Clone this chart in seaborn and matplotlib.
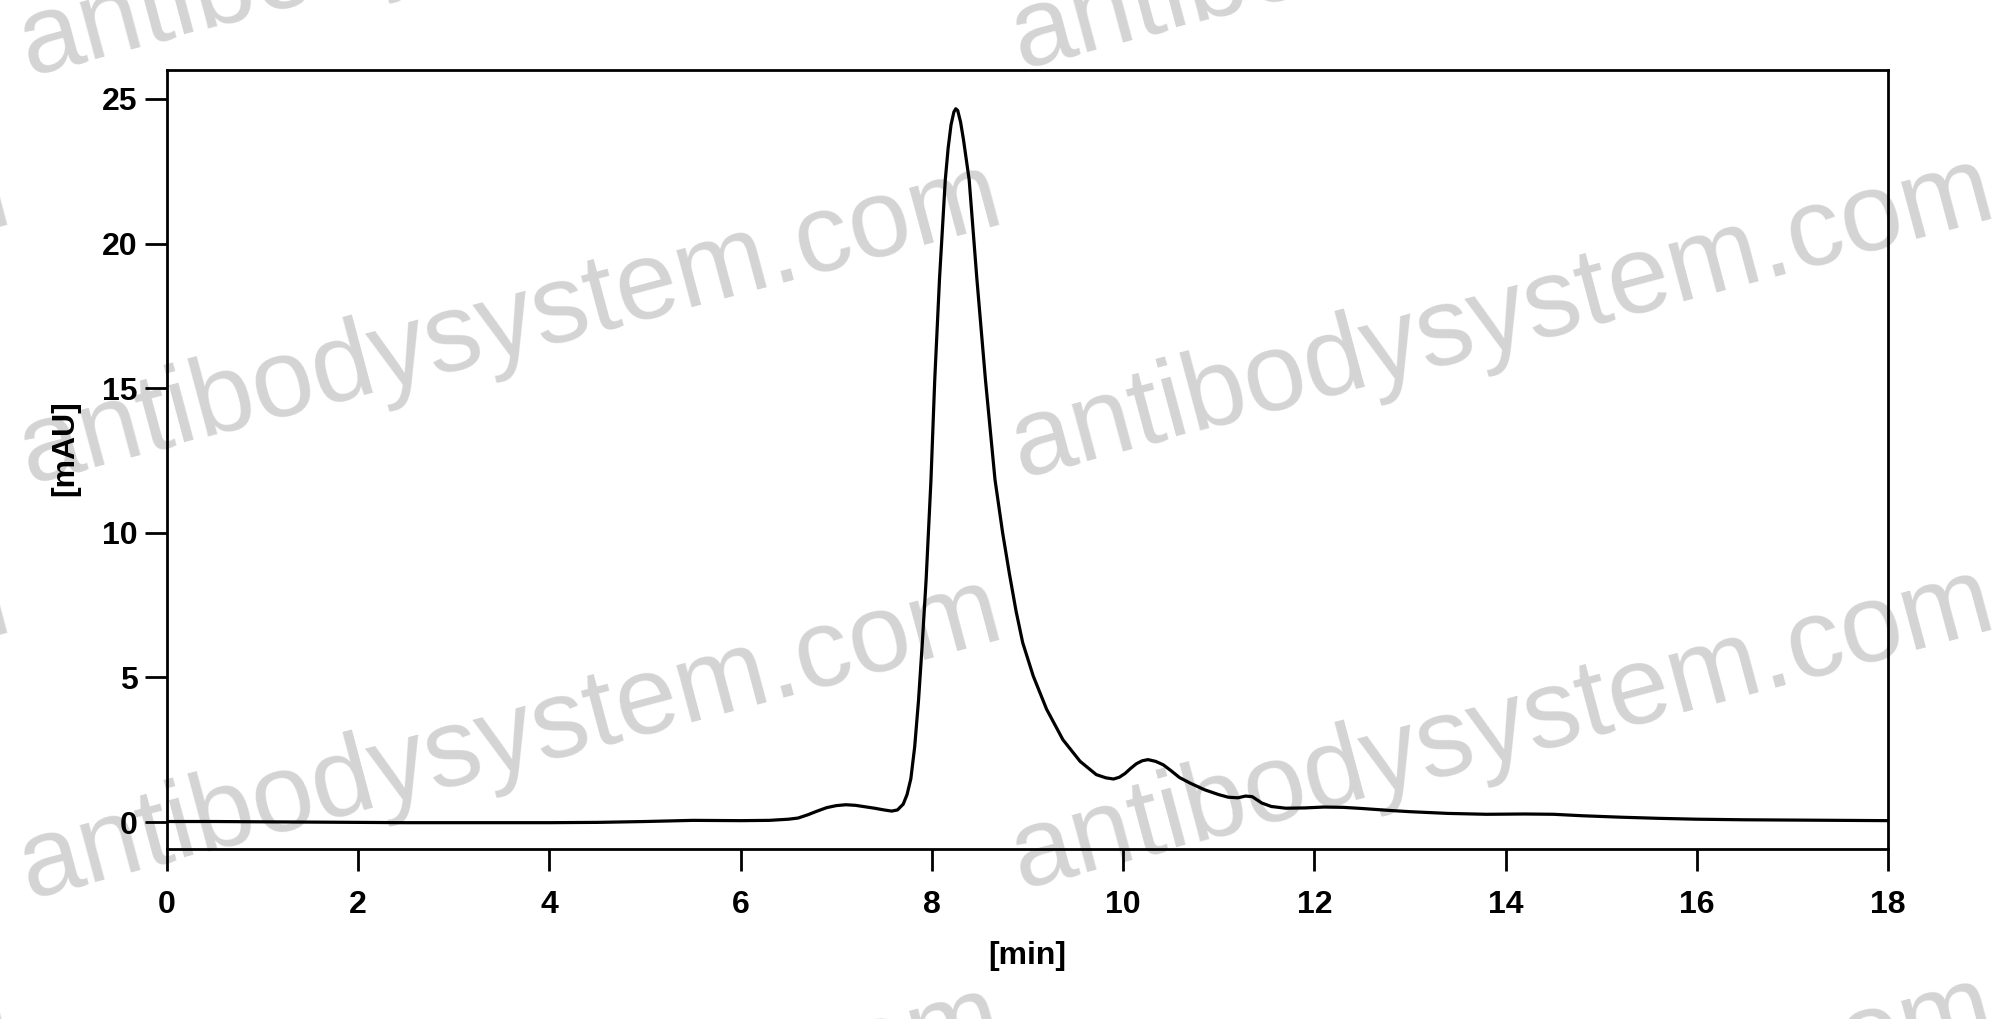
import matplotlib
matplotlib.use("Agg")
import matplotlib.pyplot as plt
import seaborn as sns
import pandas as pd

# ---- data ----
time_min = [0.0, 0.5, 1.0, 1.5, 2.0, 2.5, 3.0, 3.5, 4.0, 4.5, 5.0, 5.5, 6.0, 6.3,
            6.5, 6.6, 6.7, 6.8, 6.9, 7.0, 7.1, 7.2, 7.3, 7.4, 7.5, 7.58, 7.64,
            7.70, 7.74, 7.78, 7.82, 7.86, 7.90, 7.94, 7.99, 8.03, 8.08, 8.14,
            8.17, 8.20, 8.23, 8.25, 8.27, 8.30, 8.33, 8.39, 8.47, 8.56, 8.66,
            8.74, 8.81, 8.88, 8.95, 9.06, 9.20, 9.37, 9.55, 9.72, 9.82, 9.90,
            9.96, 10.02, 10.08, 10.14, 10.20, 10.26, 10.34, 10.42, 10.50,
            10.59, 10.70, 10.85, 11.00, 11.10, 11.20, 11.28, 11.35, 11.45,
            11.55, 11.70, 11.90, 12.10, 12.30, 12.50, 12.80, 13.00, 13.40,
            13.80, 14.20, 14.50, 14.80, 15.20, 15.60, 16.00, 16.50, 17.00,
            17.50, 18.00]
signal_mAU = [0.02, 0.02, 0.01, 0.0, -0.01, -0.02, -0.02, -0.02, -0.02, -0.01,
              0.02, 0.06, 0.05, 0.06, 0.10, 0.14, 0.25, 0.38, 0.50, 0.57, 0.60,
              0.58, 0.53, 0.48, 0.42, 0.38, 0.42, 0.62, 0.95, 1.5, 2.6, 4.2,
              6.2, 8.4, 11.8, 15.3, 18.8, 22.2, 23.3, 24.1, 24.55, 24.66, 24.6,
              24.2, 23.6, 22.2, 18.8, 15.3, 11.84, 10.0, 8.6, 7.3, 6.2, 5.05,
              3.9, 2.85, 2.1, 1.64, 1.53, 1.49, 1.55, 1.68, 1.86, 2.02, 2.12,
              2.16, 2.10, 1.98, 1.78, 1.54, 1.35, 1.12, 0.95, 0.86, 0.84, 0.90,
              0.88, 0.66, 0.54, 0.48, 0.49, 0.52, 0.51, 0.47, 0.40, 0.36, 0.30,
              0.27, 0.28, 0.27, 0.22, 0.17, 0.13, 0.10, 0.08, 0.07, 0.06, 0.05]
x_ticks = [0, 2, 4, 6, 8, 10, 12, 14, 16, 18]
y_ticks = [0, 5, 10, 15, 20, 25]
x_label = "[min]"
y_label = "[mAU]"
watermark = "antibodysystem.com"

df = pd.DataFrame({"time": time_min, "signal": signal_mAU})

sns.set_style("white")
plt.rcParams["font.family"] = ["Liberation Sans", "DejaVu Sans"]
plt.rcParams["text.color"] = "black"
plt.rcParams["axes.labelcolor"] = "black"
plt.rcParams["xtick.color"] = "black"
plt.rcParams["ytick.color"] = "black"

W, H = 1999, 1019
fig = plt.figure(figsize=(W / 100, H / 100), dpi=100)
fig.patch.set_facecolor("white")

# axes rectangle in pixels: left 167, right 1888, top 70, bottom 849
ax = fig.add_axes([167 / W, 1 - 849 / H, (1888 - 167) / W, (849 - 70) / H])
ax.patch.set_alpha(0)

# watermarks (behind the axes)
wm_centers = [(-482, -83), (510, -83), (1502, -90),
              (-482, 325), (510, 325), (1502, 319),
              (-482, 733), (510, 740), (1502, 730),
              (-482, 1141), (510, 1148), (1502, 1138)]
for cx, cy in wm_centers:
    fig.text(cx / W, 1 - cy / H, watermark, fontsize=80,
             family="Liberation Sans", color="#d4d4d4", rotation=15,
             ha="center", va="center", rotation_mode="anchor", zorder=-5)

sns.lineplot(data=df, x="time", y="signal", sort=False, estimator=None,
             color="black", linewidth=2.3, ax=ax)

ax.set_xlim(0, 18)
ax.set_ylim(-0.93, 26.0)
ax.set_xticks(x_ticks)
ax.set_yticks(y_ticks)
ax.set_xticklabels([str(v) for v in x_ticks], fontsize=23, fontweight="bold")
ax.set_yticklabels([str(v) for v in y_ticks], fontsize=23, fontweight="bold")
ax.tick_params(axis="both", which="major", direction="out", length=15.8,
               width=2.0, color="black", bottom=True, left=True,
               top=False, right=False)
ax.tick_params(axis="x", pad=13.7)
ax.tick_params(axis="y", pad=5.3)

for s in ax.spines.values():
    s.set_visible(True)
    s.set_color("black")
    s.set_linewidth(2.0)

ax.set_xlabel(x_label, fontsize=23, fontweight="bold")
ax.set_ylabel(y_label, fontsize=23, fontweight="bold")
ax.xaxis.set_label_coords(0.5, -0.118)
ax.yaxis.set_label_coords(-0.0506, 0.515)

fig.savefig("out.png", dpi=100, facecolor="white")
